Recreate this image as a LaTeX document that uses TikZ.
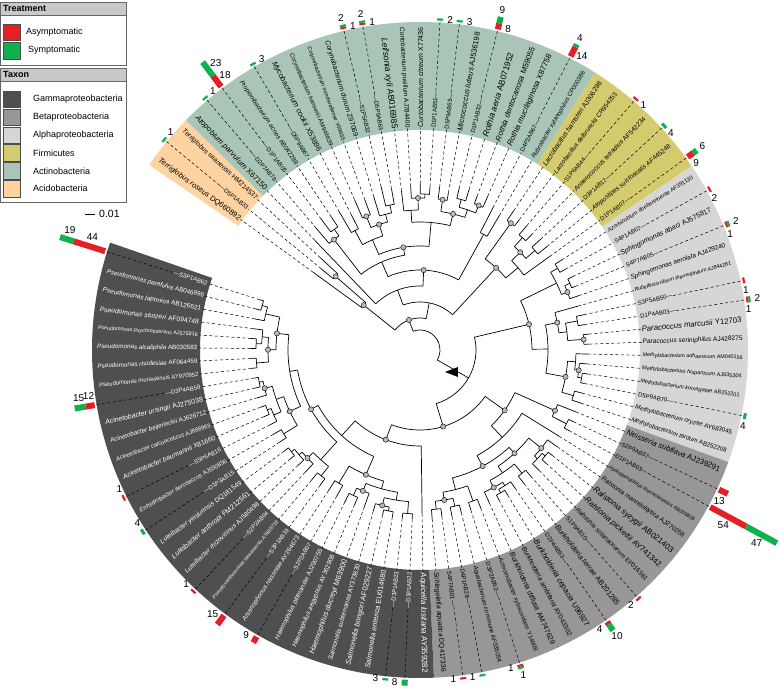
\documentclass[tikz,border=0pt]{standalone}
\usepackage{fontspec}
\setmainfont{Liberation Sans}
\usepackage{graphicx}
\usepackage{tikz}

\definecolor{gammac}{HTML}{4F4F4F}
\definecolor{betac}{HTML}{979797}
\definecolor{alphac}{HTML}{D6D6D6}
\definecolor{firmc}{HTML}{D4CB6E}
\definecolor{actinoc}{HTML}{A8C5B7}
\definecolor{acidoc}{HTML}{FDD3A2}
\definecolor{asym}{HTML}{E41F26}
\definecolor{symp}{HTML}{10B04C}
\definecolor{hdrgray}{HTML}{C9C9C9}

\newsavebox\lblbox
\newcommand\fitlbl[2]{\sbox\lblbox{#2}\ifdim\wd\lblbox>#1\resizebox{#1}{!}{\usebox\lblbox}\else\usebox\lblbox\fi}

\begin{document}
\begin{tikzpicture}[x=1pt, y=1pt,
    branch/.style={line width=0.7pt, black},
    lead/.style={line width=0.5pt, dash pattern=on 3pt off 2.5pt},
    boot/.style={fill=gray!55, draw=black, line width=0.4pt},
    lbl/.style={inner sep=0.6pt},
    cnt/.style={font=\fontsize{10}{10}\selectfont, inner sep=0pt},
    lgbox/.style={draw=gray!80!black, line width=0.6pt},
    lgkey/.style={draw=gray!60!black, line width=0.4pt},
    lgtitle/.style={font=\bfseries\fontsize{9}{10}\selectfont, inner sep=0pt},
    lgtext/.style={font=\fontsize{9}{10}\selectfont, inner sep=0pt}]

    \useasboundingbox[fill=white] (-420,-342) rectangle (360,350);

    % taxon sectors
    \foreach \pa/\pb/\col in {-0.5/2.5/acidoc, 2.5/25.5/actinoc, 25.5/32.5/firmc,
        32.5/48.5/alphac, 48.5/68.5/betac, 68.5/101.5/gammac}{
        \pgfmathsetmacro\nda{143.96-3.38*\pa}
        \pgfmathsetmacro\ndb{143.96-3.38*\pb}
        \fill[\col] (\nda:220) arc[start angle=\nda, end angle=\ndb, radius=220pt]
            -- (\ndb:328) arc[start angle=\ndb, end angle=\nda, radius=328pt] -- cycle;
    }

    % legend
    \draw[lgbox, fill=hdrgray] (-420,335) rectangle (-294,348);
    \node[lgtitle, anchor=west] (trt) at (-417,341.5) {Treatment};
    \draw[lgbox] (-420,285) rectangle (-294,335);
    \draw[lgkey, fill=asym] (-417,310) rectangle (-400,326);
    \node[lgtext, anchor=west] (asy) at (-394,318) {Asymptomatic};
    \draw[lgkey, fill=symp] (-417,291) rectangle (-400,308);
    \node[lgtext, anchor=west] (sym) at (-392,299.5) {Symptomatic};
    \draw[lgbox, fill=hdrgray] (-420,269) rectangle (-294,282);
    \node[lgtitle, anchor=west] (tax) at (-417,275.5) {Taxon};
    \draw[lgbox] (-420,148) rectangle (-294,269);
    \foreach \k/\col/\txt in {0/gammac/Gammaproteobacteria, 1/betac/Betaproteobacteria,
        2/alphac/Alphaproteobacteria, 3/firmc/Firmicutes, 4/actinoc/Actinobacteria,
        5/acidoc/Acidobacteria}{
        \pgfmathsetmacro\ky{259-17.9*\k}
        \draw[lgkey, fill=\col] (-417,\ky) rectangle (-400,\ky-16.5);
        \node[lgtext, anchor=west] (tx\k) at (-387,\ky-8.2) {\txt};
    }
    \draw[branch] (-335,136) -- (-325,136);
    \node[lgtext, anchor=west, font=\fontsize{10.5}{11}\selectfont] (scl) at (-321,136) {0.01};

    % leaves: index/parent r/tip r/kind/name/accession/asymptomatic/symptomatic
    \foreach \i/\rp/\tp/\kd/\nm/\acc/\rd/\gn in {
        0/90/165/s/Terriglobus roseus/DQ660892/0/0,
        1/140/160/e/D5P1AB33/-/0/1,
        2/140/170/s/Terriglobus saanensis/HM214537/0/0,
        3/80/190/s/Atopobium parvulum/X67150/0/0,
        4/175/200/e/D2P7AB78/-/0/1,
        5/185/205/e/D1P1AB05/-/18/23,
        6/185/200/s/Propionibacterium acnes/AB042288/0/0,
        7/170/200/e/D5P9AB67/-/0/3,
        8/170/190/s/Mycobacterium cookii/X53896/0/0,
        9/180/205/s/Corynebacterium hansenii/AM946639/0/0,
        10/180/200/s/Corynebacterium sundsvallense/Y09655/0/0,
        11/175/200/s/Corynebacterium durum/Z97069/0/0,
        12/185/210/e/S1P5AB32/-/1/2,
        13/185/205/e/D5P9AB63/-/1/2,
        14/175/200/s/Leifsonia xyli/AB016985/0/0,
        15/190/205/s/Curtobacterium pusillum/AJ784400/0/0,
        16/195/208/s/Curtobacterium citreum/X77436/0/0,
        17/195/205/e/D1P1AB51/-/0/2,
        18/190/205/e/D5P9AB65/-/0/3,
        19/190/200/s/Micrococcus luteus/AJ536198/0/0,
        20/195/208/e/D1P1AB32/-/8/9,
        21/195/210/s/Rothia aeria/AB071952/0/0,
        22/195/205/s/Rothia dentocariosa/M59055/0/0,
        23/195/210/s/Rothia mucilaginosa/X87758/0/0,
        24/165/200/e/D4P2AB67/-/14/4,
        25/165/195/s/Rubrobacter xylanophilus/CP000386/0/0,
        26/195/210/s/Lactobacillus hamsteri/AJ306298/0/0,
        27/195/205/s/Lactobacillus delbrueckii/CR954253/0/0,
        28/190/205/e/S1P6AB44/-/1/0,
        29/190/200/s/Anaerococcus tetradius/AF542234/0/0,
        30/190/205/e/D3P1AB17/-/0/4,
        31/190/205/s/Atopostipes suicloacalis/AF445248/0/0,
        32/160/200/e/D1P1AB07/-/9/6,
        33/200/210/s/Azorhizobium doebereinerae/AF391130/0/0,
        34/200/208/e/S4P1AB67/-/2/0,
        35/205/212/s/Sphingomonas abaci/AJ575817/0/0,
        36/205/210/e/S4P7AB05/-/1/2,
        37/198/210/s/Sphingomonas aerolata/AJ429240/0/0,
        38/175/205/s/Rubellimicrobium thermophilum/AJ844281/0/0,
        39/200/210/e/S3P5AB50/-/1/0,
        40/200/208/e/D1P4AB03/-/1/2,
        41/205/212/s/Paracoccus marcusii/Y12703/0/0,
        42/205/212/s/Paracoccus seriniphilus/AJ428275/0/0,
        43/195/210/s/Methylobacterium adhaesivum/AM040156/0/0,
        44/200/210/s/Methylobacterium hispanicum/AJ635304/0/0,
        45/205/212/s/Methylobacterium komagatae/AB252201/0/0,
        46/205/210/e/D5P9AB70/-/0/4,
        47/200/210/s/Methylobacterium oryzae/AY683045/0/0,
        48/200/212/s/Methylobacterium tardum/AB252208/0/0,
        49/185/210/s/Neisseria subflava/AJ239291/0/0,
        50/205/212/e/S2P9AB37/-/13/0,
        51/205/212/e/D1P1AB03/-/54/47,
        52/150/205/s/Hydrogenophilus thermoluteolus/AB009828/0/0,
        53/195/210/s/Ralstonia mannitolilytica/AJ270258/0/0,
        54/205/212/s/Ralstonia syzygii/AB021403/0/0,
        55/205/212/s/Ralstonia pickettii/AY741342/0/0,
        56/200/212/s/Ralstonia solanacearum/EF016361/0/0,
        57/200/210/e/S1P9AB10/-/2/0,
        58/200/212/s/Burkholderia terrae/AB201285/0/0,
        59/200/210/e/D2P4AB53/-/4/10,
        60/205/212/s/Burkholderia cepacia/U96927/0/0,
        61/205/212/s/Burkholderia ambifaria/AY043302/0/0,
        62/195/210/s/Burkholderia diffusa/AM747629/0/0,
        63/200/212/s/Achromobacter xylosoxidans/Y14908/0/0,
        64/200/210/e/D3P2AB52/-/1/1,
        65/200/210/s/Aquabacterium commune/AF035054/0/0,
        66/200/212/e/D4P1AB28/-/0/1,
        67/200/210/e/S4P7AB01/-/1/0,
        68/200/212/s/Schlegelella aquatica/DQ417336/0/0,
        69/120/205/s/Aquicella lusitana/AY359282/0/0,
        70/205/212/e/D3P1AB22/-/0/8,
        71/205/212/e/D3P1AB23/-/0/3,
        72/205/212/s/Salmonella enterica/EU014680/0/0,
        73/205/212/s/Salmonella bongori/AF029227/0/0,
        74/200/210/s/Salmonella subterranea/AY373830/0/0,
        75/190/208/s/Haemophilus ducreyi/M63900/0/0,
        76/200/210/s/Haemophilus aegyptius/AY362908/0/0,
        77/200/212/s/Haemophilus pittmaniae/AJ290755/0/0,
        78/195/210/e/S2P2AB07/-/9/0,
        79/195/210/s/Arsenophonus nasoniae/AY264673/0/0,
        80/200/210/e/S3P1AB19/-/15/0,
        81/200/212/s/Pseudoxanthomonas taiwanensis/AY686719/0/0,
        82/195/210/e/S2P2AB04/-/1/0,
        83/200/210/s/Luteibacter rhizovicinus/AJ580498/0/0,
        84/205/212/s/Luteibacter anthropi/FM212561/0/0,
        85/205/212/s/Luteibacter yeojuensis/DQ181549/0/0,
        86/200/210/e/D1P3AB15/-/0/4,
        87/200/212/s/Enhydrobacter aerosaccus/AJ550856/0/0,
        88/200/210/e/S5P6AB16/-/1/0,
        89/205/212/s/Acinetobacter baumannii/X81660/0/0,
        90/205/212/s/Acinetobacter calcoaceticus/AJ888983/0/0,
        91/200/212/s/Acinetobacter beijerinckii/AJ626712/0/0,
        92/205/212/s/Acinetobacter ursingii/AJ275038/0/0,
        93/205/210/e/D3P4AB58/-/12/15,
        94/205/212/s/Pseudomonas moraviensis/AY970952/0/0,
        95/205/212/s/Pseudomonas rhodesiae/AF064459/0/0,
        96/205/212/s/Pseudomonas alcaliphila/AB030583/0/0,
        97/205/212/s/Pseudomonas psychrotolerans/AJ575816/0/0,
        98/198/210/s/Pseudomonas stutzeri/AF094748/0/0,
        99/198/210/s/Pseudomonas japonica/AB126621/0/0,
        100/205/212/s/Pseudomonas parafulva/AB046996/0/0,
        101/205/210/e/S3P1AB62/-/44/19}{
        \pgfmathsetmacro\lfa{143.96-3.38*\i}
        \pgfmathsetmacro\lfq{0.8*\rp}
        \pgfmathsetmacro\lft{0.8*\tp}
        \pgfmathtruncatemacro\rside{(\lfa>-90)&&(\lfa<90)}
        \ifnum\i>68 \def\lfc{white}\else\def\lfc{black}\fi
        \draw[branch] (\lfa:\lfq) -- (\lfa:\lft) coordinate (t\i);
        \if s\kd
            \def\lftxt{\fitlbl{100pt}{\fontsize{8.5}{9}\selectfont\textit{\nm}~\acc}}
        \else
            \ifnum\rside=1 \def\lftxt{\fontsize{6}{6}\selectfont\nm—}\else\def\lftxt{\fontsize{6}{6}\selectfont—\nm}\fi
        \fi
        \ifnum\rside=1
            \node[lbl, text=\lfc, anchor=west, rotate=\lfa] (l\i) at (\lfa:222) {\lftxt};
            \draw[lead] (t\i) -- (l\i.west);
            \if e\kd \draw[lead] (l\i.east) -- (\lfa:329) coordinate (o\i); \fi
        \else
            \node[lbl, text=\lfc, anchor=east, rotate=\lfa+180] (l\i) at (\lfa:222) {\lftxt};
            \draw[lead] (t\i) -- (l\i.east);
            \if e\kd \draw[lead] (l\i.west) -- (\lfa:329) coordinate (o\i); \fi
        \fi
        % bars
        \pgfmathsetmacro\lr{(\rd>0)*max(0.75*\rd,2.2)}
        \pgfmathsetmacro\lg{(\gn>0)*max(0.75*\gn,2.2)}
        \ifnum\rd>0
            \fill[asym, rotate=\lfa] (330,-3) rectangle ++(\lr,6);
            \pgfmathsetmacro\brm{330+\lr/2}
            \path (\lfa:\brm) ++(\lfa-90:10) node[cnt] (cr\i) {\rd};
        \fi
        \ifnum\gn>0
            \pgfmathsetmacro\gst{330+\lr}
            \fill[symp, rotate=\lfa] (\gst,-3) rectangle ++(\lg,6);
            \pgfmathtruncatemacro\gout{(\rd>0)&&(\lg<8)}
            \ifnum\gout=1
                \pgfmathsetmacro\bgm{330+\lr+\lg+7}
                \node[cnt] (cg\i) at (\lfa:\bgm) {\gn};
            \else
                \pgfmathsetmacro\bgm{330+\lr+\lg/2}
                \path (\lfa:\bgm) ++(\lfa-90:10) node[cnt] (cg\i) {\gn};
            \fi
        \fi
    }

    % internal nodes: position/r/parent r/first child/last child/support
    \foreach \p/\nr/\rp/\pa/\pb/\bs in {
        1.5/140/90/1/2/1, 0.75/90/40/0/1.5/1,
        5.5/185/175/5/6/0, 4.75/175/120/4/5.5/1, 7.5/170/150/7/8/0, 9.5/180/165/9/10/1,
        12.5/185/175/12/13/0, 11.75/175/165/11/12.5/0, 10.625/165/150/9.5/11.75/1,
        9.0625/150/130/7.5/10.625/0, 16.5/195/190/16/17/0, 15.75/190/175/15/16.5/1,
        14.875/175/160/14/15.75/0, 18.5/190/175/18/19/1, 20.5/195/185/20/21/0,
        22.5/195/185/22/23/1, 21.5/185/175/20.5/22.5/0, 20/175/160/18.5/21.5/1,
        17.4375/160/130/14.875/20/0, 24.5/165/100/24/25/0, 13.25/130/120/9.0625/17.4375/1,
        9/120/100/4.75/13.25/0, 16.75/100/80/9/24.5/1, 9.875/80/60/3/16.75/0,
        26.5/195/140/26/27/1, 28.5/190/175/28/29/0, 30.5/190/175/30/31/0,
        29.5/175/160/28.5/30.5/1, 30.75/160/140/29.5/32/0, 28.625/140/60/26.5/30.75/1,
        19.25/60/40/9.875/28.625/0, 10/40/25/0.75/19.25/1,
        33.5/200/190/33/34/0, 35.5/205/198/35/36/0, 36.25/198/190/35.5/37/1,
        34.875/190/140/33.5/36.25/0, 39.5/200/185/39/40/0, 41.5/205/185/41/42/1,
        40.5/185/175/39.5/41.5/0, 39.25/175/160/38/40.5/1, 45.5/205/200/45/46/0,
        44.75/200/195/44/45.5/1, 43.875/195/185/43/44.75/0, 47.5/200/185/47/48/0,
        45.6875/185/160/43.875/47.5/1, 42.469/160/140/39.25/45.6875/0,
        38.672/140/70/34.875/42.469/1,
        50.5/205/185/50/51/0, 49.75/185/130/49/50.5/1, 54.5/205/200/54/55/0,
        55.25/200/195/54.5/56/0, 54.125/195/175/53/55.25/1, 57.5/200/185/57/58/0,
        60.5/205/200/60/61/0, 59.75/200/195/59/60.5/0, 60.875/195/185/59.75/62/1,
        59.19/185/175/57.5/60.875/0, 56.66/175/165/54.125/59.19/1, 63.5/200/180/63/64/0,
        65.5/200/190/65/66/0, 67.5/200/190/67/68/0, 66.5/190/180/65.5/67.5/1,
        65/180/165/63.5/66.5/0, 60.83/165/150/56.66/65/1, 56.415/150/130/52/60.83/0,
        53.08/130/100/49.75/56.415/1,
        70.5/205/190/70/71/0, 72.5/205/200/72/73/0, 73.25/200/190/72.5/74/1,
        71.875/190/180/70.5/73.25/0, 76.5/200/190/76/77/0, 75.75/190/180/75/76.5/1,
        73.81/180/170/71.875/75.75/0, 78.5/195/170/78/79/0, 76.16/170/145/73.81/78.5/1,
        80.5/200/185/80/81/0, 84.5/205/200/84/85/0, 83.75/200/195/83/84.5/0,
        82.875/195/185/82/83.75/1, 81.69/185/155/80.5/82.875/0, 86.5/200/180/86/87/0,
        89.5/205/200/89/90/0, 88.75/200/190/88/89.5/0, 92.5/205/200/92/93/0,
        91.75/200/190/91/92.5/1, 90.25/190/180/88.75/91.75/0, 88.375/180/165/86.5/90.25/1,
        94.5/205/190/94/95/0, 96.5/205/198/96/97/0, 97.25/198/190/96.5/98/0,
        95.875/190/180/94.5/97.25/1, 100.5/205/198/100/101/0, 99.75/198/180/99/100.5/0,
        97.81/180/165/95.875/99.75/1, 93.09/165/155/88.375/97.81/0,
        87.39/155/145/81.69/93.09/1, 81.78/145/120/76.16/87.39/0,
        75.39/120/100/69/81.78/1, 64.23/100/70/53.08/75.39/1,
        51.45/70/25/38.672/64.23/0, 30.7/25/25/10/51.45/0}{
        \pgfmathsetmacro\nda{143.96-3.38*\p}
        \pgfmathsetmacro\ndb{143.96-3.38*\pa}
        \pgfmathsetmacro\ndc{143.96-3.38*\pb}
        \pgfmathsetmacro\ndr{0.8*\nr}
        \pgfmathsetmacro\ndq{0.8*\rp}
        \draw[branch] (\nda:\ndq) -- (\nda:\ndr);
        \draw[branch] (\ndb:\ndr) arc[start angle=\ndb, end angle=\ndc, radius=\ndr pt];
        \ifnum\bs=1 \filldraw[boot] (\nda:\ndr) circle (2.6pt); \fi
    }

    \fill (25,-22) -- (38,-17) -- (38,-27) -- cycle;
\end{tikzpicture}
\end{document}
